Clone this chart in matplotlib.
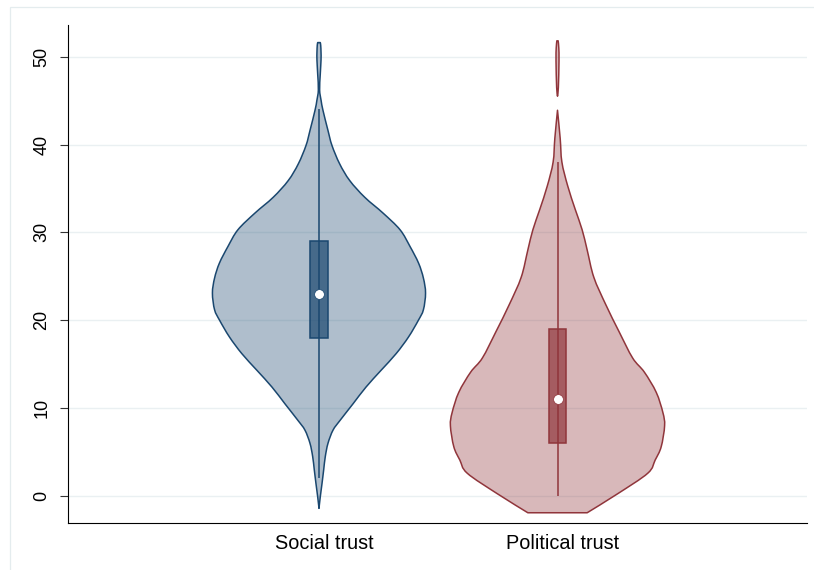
import matplotlib
matplotlib.use("Agg")
import matplotlib.pyplot as plt
from matplotlib.patches import Rectangle, PathPatch
from matplotlib.path import Path
import numpy as np

plt.rcParams["font.family"] = ["Liberation Sans", "DejaVu Sans"]

# ---- data -------------------------------------------------------------
categories = ["Social trust", "Political trust"]

# Kernel density outlines: value on the trust scale and relative half-width
social_y = [51.6, 51.3, 50.5, 49.6, 48.0, 46.2, 45.0, 43.9, 41.6, 39.9, 37.8,
            35.9, 34.0, 32.2, 30.3, 28.4, 26.5, 24.8, 23.1, 21.2, 20.0, 18.1,
            16.2, 14.3, 12.4, 10.5, 8.6, 7.5, 6.0, 4.5, 3.0, 1.4, -0.1, -1.4]
social_w = [0.012, 0.016, 0.019, 0.019, 0.012, 0.006, 0.020, 0.037, 0.084,
            0.121, 0.193, 0.287, 0.427, 0.598, 0.757, 0.850, 0.930, 0.975,
            0.995, 0.975, 0.928, 0.836, 0.720, 0.579, 0.439, 0.318, 0.196,
            0.131, 0.084, 0.059, 0.044, 0.028, 0.012, 0.0]

political_top_y = [51.8, 51.0, 49.5, 46.5, 45.5]
political_top_w = [0.006, 0.012, 0.014, 0.008, 0.0]

political_y = [43.9, 40.7, 38.0, 35.3, 32.6, 30.3, 28.0, 24.9, 21.8, 18.7,
               15.7, 14.1, 11.8, 9.5, 8.0, 5.6, 4.1, 2.6, 0.25, -1.9]
political_w = [0.0, 0.025, 0.041, 0.095, 0.166, 0.230, 0.277, 0.339, 0.450,
               0.575, 0.702, 0.811, 0.922, 0.984, 1.000, 0.968, 0.912, 0.843,
               0.560, 0.277]

# Box-plot summaries: lower adjacent, q1, median, q3, upper adjacent
social_stats = [2, 18, 23, 29, 44]
political_stats = [0, 6, 11, 19, 38]

yticks = [0, 10, 20, 30, 40, 50]

# ---- style ------------------------------------------------------------
navy = (26 / 255, 71 / 255, 111 / 255)
maroon = (144 / 255, 53 / 255, 59 / 255)
half_scale = 0.449      # half-width of the widest part of a violin (x units)
box_half = 0.036
line_w = 1.1

fig = plt.figure(figsize=(8.14, 5.70), dpi=100)
fig.patch.set_facecolor("white")

# light outer frame around the graph region
fig.add_artist(Rectangle((9.5 / 814, -0.05), 1.2, 1 - 6.7 / 570 + 0.05,
                         transform=fig.transFigure, fill=False,
                         edgecolor="#E4ECEE", linewidth=0.9))

ax = fig.add_axes([68.3 / 814, 1 - 523.3 / 570,
                   (807 - 68.3) / 814, (523.3 - 25) / 570])
ax.set_facecolor("white")


def smooth_side(pts):
    """Cubic Bezier segments (Catmull-Rom tangents) through the given points."""
    verts, codes = [], []
    n = len(pts)
    for i in range(n - 1):
        p0 = pts[max(i - 1, 0)]
        p1 = pts[i]
        p2 = pts[i + 1]
        p3 = pts[min(i + 2, n - 1)]
        c1 = p1 + (p2 - p0) / 6.0
        c2 = p2 - (p3 - p1) / 6.0
        verts += [c1, c2, p2]
        codes += [Path.CURVE4] * 3
    return verts, codes


def violin_path(pos, ys, ws):
    ys = np.asarray(ys, float)
    ws = np.asarray(ws, float) * half_scale
    left = np.column_stack([pos - ws, ys])
    right = np.column_stack([pos + ws, ys])[::-1]
    verts, codes = [left[0]], [Path.MOVETO]
    v, c = smooth_side(left)
    verts += v
    codes += c
    verts.append(right[0])
    codes.append(Path.LINETO)
    v, c = smooth_side(right)
    verts += v
    codes += c
    verts.append(left[0])
    codes.append(Path.CLOSEPOLY)
    return Path(np.array(verts), codes)


def draw_violin(pos, segments, stats, color):
    for ys, ws in segments:
        path = violin_path(pos, ys, ws)
        ax.add_patch(PathPatch(path, facecolor=(*color, 0.35),
                               edgecolor="none", zorder=2))
        ax.add_patch(PathPatch(path, facecolor="none", edgecolor=color,
                               lw=line_w, joinstyle="round", zorder=3))
    lo, q1, med, q3, hi = stats
    ax.plot([pos, pos], [lo, hi], color=color, lw=line_w, zorder=4,
            solid_capstyle="butt")
    ax.add_patch(Rectangle((pos - box_half, q1), 2 * box_half, q3 - q1,
                           facecolor=color, alpha=0.7, edgecolor="none",
                           zorder=5))
    ax.add_patch(Rectangle((pos - box_half, q1), 2 * box_half, q3 - q1,
                           facecolor="none", edgecolor=color, lw=line_w,
                           zorder=6))
    ax.plot([pos], [med], marker="o", ms=7, mfc="white", mec=color,
            mew=0.5, zorder=7)


positions = [1, 2]
draw_violin(positions[0], [(social_y, social_w)], social_stats, navy)
draw_violin(positions[1], [(political_top_y, political_top_w),
                           (political_y, political_w)],
            political_stats, maroon)

# ---- axes -------------------------------------------------------------
ax.set_xlim(-0.051, 3.046)
ax.set_ylim(-3.1, 53.6)

ax.set_yticks(yticks)
ax.set_yticklabels([str(t) for t in yticks], rotation=90, va="center",
                   fontsize=13)
ax.tick_params(axis="y", length=6, width=0.8, pad=7, color="#333333")

ax.set_xticks([p + 0.022 for p in positions])
ax.set_xticklabels(categories, fontsize=14.3)
ax.tick_params(axis="x", length=0, pad=8)

ax.grid(axis="y", color="#EAF0F2", linewidth=1.0, zorder=0)
ax.set_axisbelow(True)

for side in ("top", "right"):
    ax.spines[side].set_visible(False)
for side in ("left", "bottom"):
    ax.spines[side].set_color("black")
    ax.spines[side].set_linewidth(0.8)

fig.savefig("out.png", dpi=100, facecolor="white")
